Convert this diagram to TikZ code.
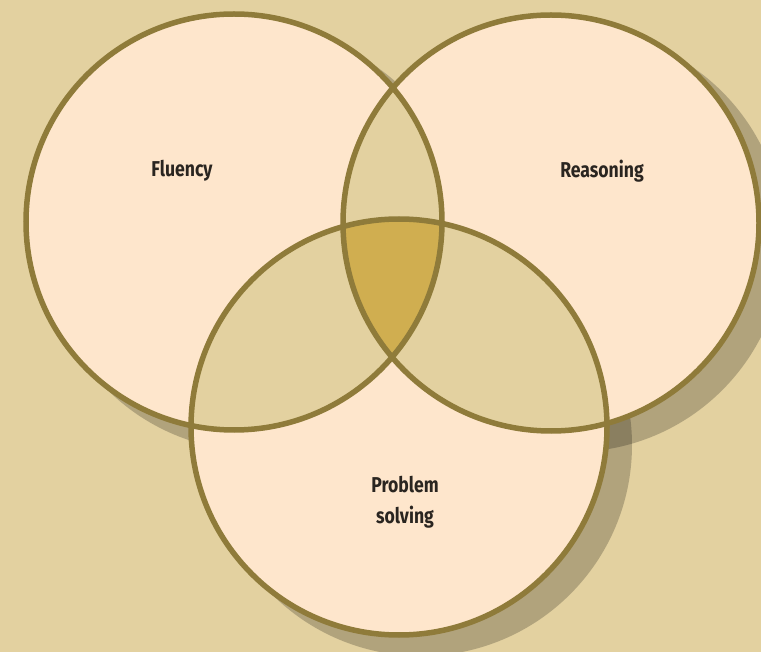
\documentclass[tikz,border=0pt]{standalone}
\usepackage{fontspec}
\setmainfont{Fira Sans}[FakeStretch=0.82]
\usetikzlibrary{positioning}
\definecolor{bgtan}{HTML}{E3D1A0}
\definecolor{peach}{HTML}{FEE6CC}
\definecolor{rimgold}{HTML}{8F7B3A}
\definecolor{coregold}{HTML}{D0AE50}
\definecolor{labeltext}{HTML}{2A2520}
\begin{document}
\begin{tikzpicture}[x=1pt,y=-1pt,
  rim/.style={draw=rimgold,line width=5.5pt},
  shade/.style={fill=black,opacity=0.22},
  lbl/.style={font=\bfseries\fontsize{21.5}{31}\selectfont,text=labeltext,align=center,inner sep=0pt}]
  % canvas
  \fill[bgtan] (0,0) rectangle (761,652);
  \useasboundingbox (0,0) rectangle (761,652);
  % circle centres and radius
  \def\rad{208}
  \coordinate (cF) at (234,222);
  \coordinate (cR) at (551,223);
  \coordinate (cP) at (399,427);
  % drop shadows
  \foreach \c in {cF,cR,cP}
    \fill[shade] ([shift={(22,18)}]\c) circle[radius=\rad+3];
  % circle bodies
  \foreach \c in {cF,cR,cP}
    \fill[peach] (\c) circle[radius=\rad];
  % pairwise overlaps
  \begin{scope}
    \clip (cF) circle[radius=\rad];
    \fill[bgtan] (cR) circle[radius=\rad];
    \fill[bgtan] (cP) circle[radius=\rad];
  \end{scope}
  \begin{scope}
    \clip (cR) circle[radius=\rad];
    \fill[bgtan] (cP) circle[radius=\rad];
  \end{scope}
  % triple overlap
  \begin{scope}
    \clip (cF) circle[radius=\rad];
    \clip (cR) circle[radius=\rad];
    \fill[coregold] (cP) circle[radius=\rad];
  \end{scope}
  % outlines
  \foreach \c in {cF,cR,cP}
    \draw[rim] (\c) circle[radius=\rad];
  % labels
  \node[lbl] (fluency) at (182,171) {Fluency};
  \node[lbl] (reasoning) at (602,171) {Reasoning};
  \node[lbl] (problem) at (405,502) {Problem\\solving};
\end{tikzpicture}
\end{document}
